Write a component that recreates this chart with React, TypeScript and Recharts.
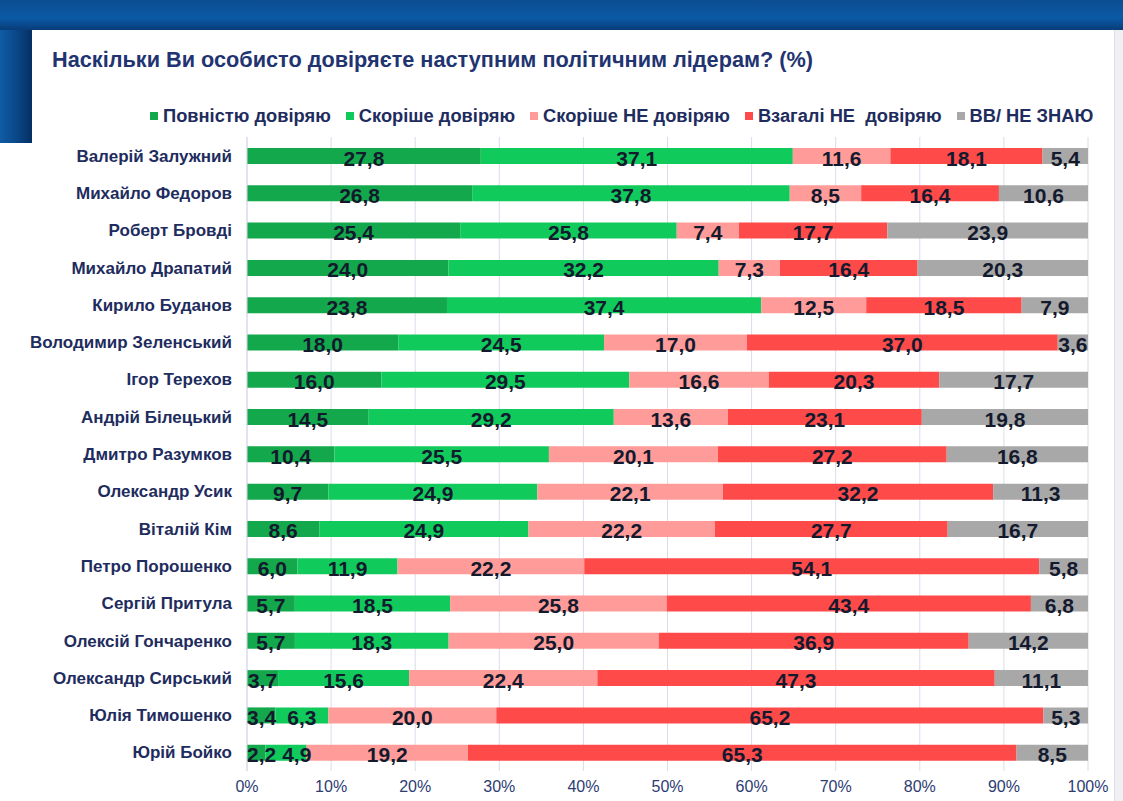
import React from 'react';
import { BarChart, Bar, XAxis, YAxis, CartesianGrid, LabelList } from 'recharts';

const leaders = [
  'Валерій Залужний',
  'Михайло Федоров',
  'Роберт Бровді',
  'Михайло Драпатий',
  'Кирило Буданов',
  'Володимир Зеленський',
  'Ігор Терехов',
  'Андрій Білецький',
  'Дмитро Разумков',
  'Олександр Усик',
  'Віталій Кім',
  'Петро Порошенко',
  'Сергій Притула',
  'Олексій Гончаренко',
  'Олександр Сирський',
  'Юлія Тимошенко',
  'Юрій Бойко',
];

const fullyTrust = [27.8, 26.8, 25.4, 24.0, 23.8, 18.0, 16.0, 14.5, 10.4, 9.7, 8.6, 6.0, 5.7, 5.7, 3.7, 3.4, 2.2];
const ratherTrust = [37.1, 37.8, 25.8, 32.2, 37.4, 24.5, 29.5, 29.2, 25.5, 24.9, 24.9, 11.9, 18.5, 18.3, 15.6, 6.3, 4.9];
const ratherNot = [11.6, 8.5, 7.4, 7.3, 12.5, 17.0, 16.6, 13.6, 20.1, 22.1, 22.2, 22.2, 25.8, 25.0, 22.4, 20.0, 19.2];
const notAtAll = [18.1, 16.4, 17.7, 16.4, 18.5, 37.0, 20.3, 23.1, 27.2, 32.2, 27.7, 54.1, 43.4, 36.9, 47.3, 65.2, 65.3];
const dontKnow = [5.4, 10.6, 23.9, 20.3, 7.9, 3.6, 17.7, 19.8, 16.8, 11.3, 16.7, 5.8, 6.8, 14.2, 11.1, 5.3, 8.5];

const xTicks = [0, 10, 20, 30, 40, 50, 60, 70, 80, 90, 100];

const series = [
  { key: 'p1', name: 'Повністю довіряю', color: '#13a84b' },
  { key: 'p2', name: 'Скоріше довіряю', color: '#10cb5c' },
  { key: 'p3', name: 'Скоріше НЕ довіряю', color: '#ff9c99' },
  { key: 'p4', name: 'Взагалі НЕ  довіряю', color: '#ff4a4a' },
  { key: 'p5', name: 'ВВ/ НЕ ЗНАЮ', color: '#a8a8a8' },
];

const data = leaders.map((name, i) => ({
  name,
  p1: fullyTrust[i],
  p2: ratherTrust[i],
  p3: ratherNot[i],
  p4: notAtAll[i],
  p5: dontKnow[i],
}));

const navy = '#1e2c5e';
const font = '"Liberation Sans", Arial, sans-serif';
const labelSize = 21;

const fmt = (v: number) => v.toFixed(1).replace('.', ',');
// rough width of a bold label such as "27,8"
const textW = (v: number) => (fmt(v).length - 1) * labelSize * 0.556 + labelSize * 0.278;

const PLOT_LEFT = 247;

// centred label, nudged right when a tiny segment would make it collide with its neighbour
const makeLabel = (seriesIdx: number) => (props: any) => {
  const { x, y, width, height, index } = props;
  const row: any = data[index];
  const v = row[series[seriesIdx].key];
  if (v == null || !width) return null;
  const pxPerUnit = width / v;
  let prevRight = PLOT_LEFT - 100;
  let segStart = x;
  // walk the previous segments to find where their labels end
  const starts: number[] = [];
  let acc = x;
  for (let k = seriesIdx - 1; k >= 0; k--) {
    acc -= row[series[k].key] * pxPerUnit;
    starts[k] = acc;
  }
  for (let k = 0; k < seriesIdx; k++) {
    const pv = row[series[k].key];
    const w = pv * pxPerUnit;
    let c = starts[k] + w / 2;
    c = Math.max(c, PLOT_LEFT + textW(pv) / 2, prevRight + 6 + textW(pv) / 2);
    prevRight = c + textW(pv) / 2;
  }
  let cx = segStart + width / 2;
  cx = Math.max(cx, PLOT_LEFT + textW(v) / 2, prevRight + 6 + textW(v) / 2);
  return (
    <text
      x={cx}
      y={y + height / 2 + 2}
      textAnchor="middle"
      dominantBaseline="central"
      fill="#141a2e"
      fontSize={labelSize}
      fontWeight={700}
      fontFamily={font}
    >
      {fmt(v)}
    </text>
  );
};

export default function App() {
  return (
    <div style={{ position: 'absolute', left: 0, top: 0, width: 1123, height: 801, background: '#ffffff', overflow: 'hidden' }}>
      <div style={{ position: 'absolute', left: 0, top: 0, width: 1123, height: 30, background: 'linear-gradient(180deg, #0c4d92 0%, #0b5aa6 60%, #083c78 100%)' }} />
      <div style={{ position: 'absolute', left: 0, top: 30, width: 32, height: 113, background: 'linear-gradient(90deg, #0f5ca6 0%, #0a4889 50%, #062f62 100%)' }} />
      <div style={{ position: 'absolute', left: 1114, top: 30, width: 9, height: 771, background: '#eef0f4', borderLeft: '1px solid #dcdfe6' }} />
      <div style={{ position: 'absolute', left: 52, top: 47, fontFamily: font, fontWeight: 700, fontSize: 21.7, color: '#1f3470', whiteSpace: 'nowrap' }}>
        Наскільки Ви особисто довіряєте наступним політичним лідерам? (%)
      </div>
      {/* legend */}
      <div style={{ position: 'absolute', left: 150, top: 105, display: 'flex', fontFamily: font, fontWeight: 700, fontSize: 18.3, color: navy, whiteSpace: 'pre' }}>
        {series.map((s) => (
          <div key={s.key} style={{ display: 'flex', alignItems: 'center', marginRight: 15 }}>
            <span style={{ width: 8, height: 8, background: s.color, display: 'inline-block', marginRight: 5 }} />
            <span>{s.name}</span>
          </div>
        ))}
      </div>
      <div style={{ position: 'absolute', left: 0, top: 0 }}>
        <BarChart
          width={1123}
          height={801}
          data={data}
          layout="vertical"
          stackOffset="expand"
          barSize={16}
          margin={{ top: 137, right: 35, bottom: 0, left: 0 }}
        >
          <CartesianGrid horizontal={false} vertical stroke="#dadcea" />
          <XAxis
            type="number"
            domain={[0, 1]}
            ticks={xTicks.map((t) => t / 100)}
            tickFormatter={(v: number) => `${Math.round(v * 100)}%`}
            axisLine={false}
            tickLine={false}
            height={30}
            tick={{ fill: '#2d3c72', fontSize: 16, fontFamily: font }}
            dy={2}
          />
          <YAxis
            type="category"
            dataKey="name"
            width={247}
            axisLine={{ stroke: '#d6d9e6' }}
            tickLine={false}
            tickMargin={9}
            interval={0}
            tick={{ fill: navy, fontSize: 17, fontWeight: 700, fontFamily: font }}
          />
          {series.map((s, si) => (
            <Bar key={s.key} dataKey={s.key} name={s.name} stackId="a" fill={s.color} isAnimationActive={false}>
              <LabelList dataKey={s.key} content={makeLabel(si)} />
            </Bar>
          ))}
        </BarChart>
      </div>
    </div>
  );
}
